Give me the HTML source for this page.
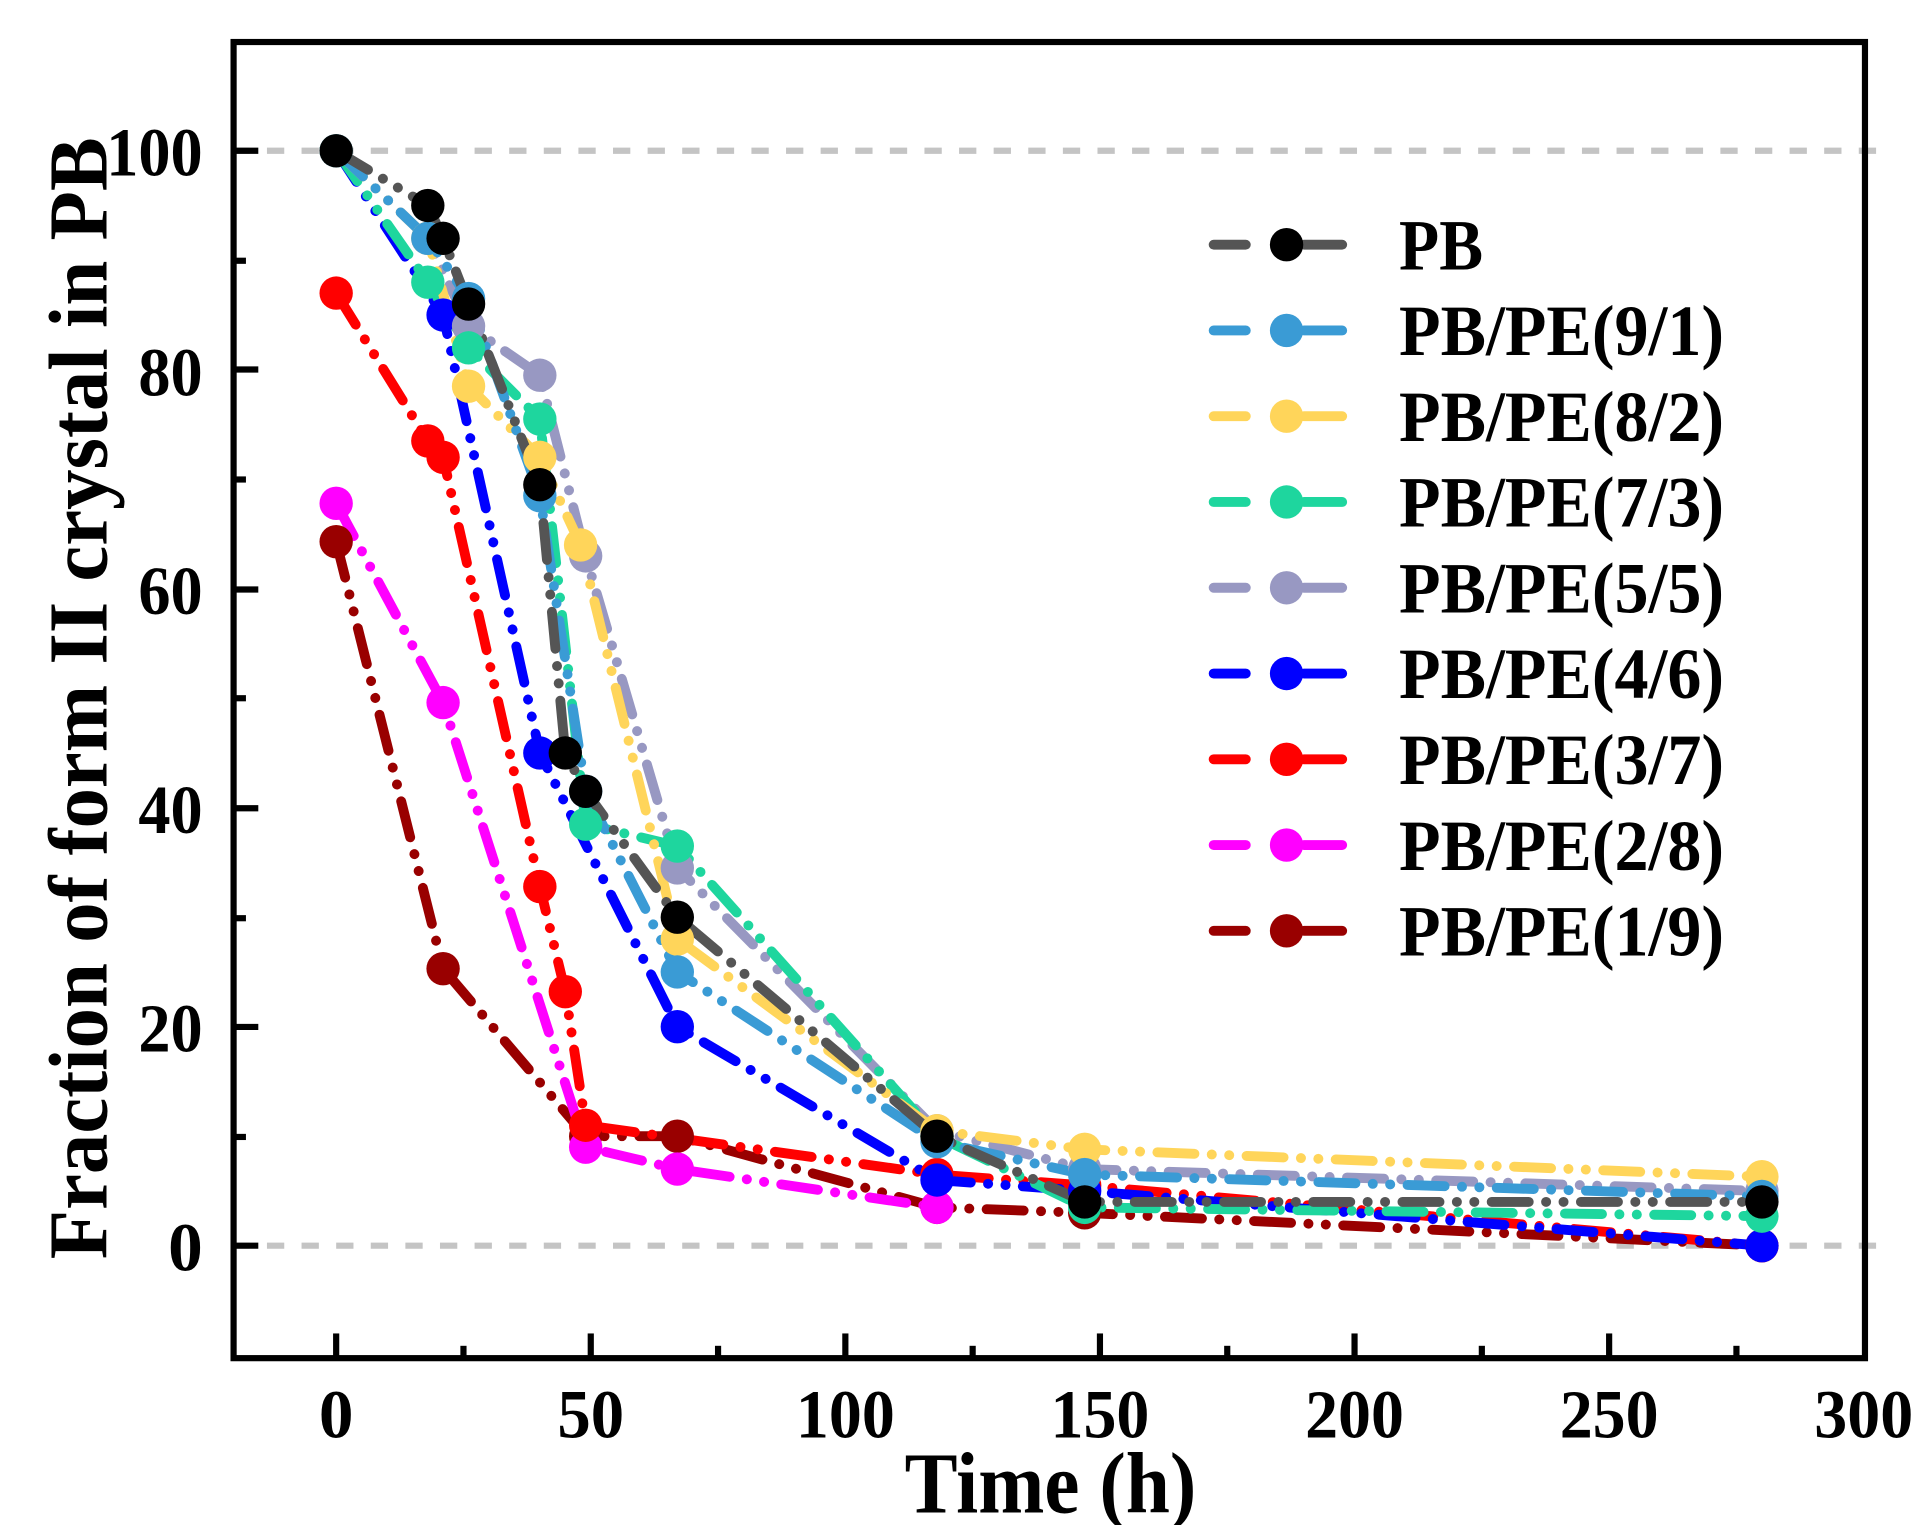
<!DOCTYPE html>
<html><head><meta charset="utf-8"><style>html,body{margin:0;padding:0;background:#fff}svg{display:block}</style></head>
<body>
<svg width="1928" height="1525" viewBox="0 0 1560 1234" preserveAspectRatio="none" xmlns="http://www.w3.org/2000/svg" font-family="'Liberation Serif', serif" font-weight="bold">
<rect width="1560" height="1234" fill="#fff"/>
<line x1="188" y1="122" x2="1518" y2="122" stroke="#c4c4c4" stroke-width="5" stroke-dasharray="14 14"/>
<line x1="188" y1="1008" x2="1518" y2="1008" stroke="#c4c4c4" stroke-width="5" stroke-dasharray="14 14"/>
<g id="series" stroke-width="8" stroke-linecap="round" stroke-linejoin="round" fill="none" stroke-dasharray="30 14 0.1 14 0.1 14"></g>
<g id="markers"></g>
<rect x="189" y="34" width="1320" height="1065" fill="none" stroke="#000" stroke-width="5"/>
<g stroke="#000" stroke-width="5">
<line x1="272" y1="1099" x2="272" y2="1079"/><line x1="478" y1="1099" x2="478" y2="1079"/><line x1="684" y1="1099" x2="684" y2="1079"/><line x1="890" y1="1099" x2="890" y2="1079"/><line x1="1096" y1="1099" x2="1096" y2="1079"/><line x1="1302" y1="1099" x2="1302" y2="1079"/>
<line x1="375" y1="1099" x2="375" y2="1089"/><line x1="581" y1="1099" x2="581" y2="1089"/><line x1="787" y1="1099" x2="787" y2="1089"/><line x1="993" y1="1099" x2="993" y2="1089"/><line x1="1199" y1="1099" x2="1199" y2="1089"/><line x1="1405" y1="1099" x2="1405" y2="1089"/>
<line x1="189" y1="122" x2="209" y2="122"/><line x1="189" y1="299" x2="209" y2="299"/><line x1="189" y1="477" x2="209" y2="477"/><line x1="189" y1="654" x2="209" y2="654"/><line x1="189" y1="831" x2="209" y2="831"/><line x1="189" y1="1008" x2="209" y2="1008"/>
<line x1="189" y1="211" x2="199" y2="211"/><line x1="189" y1="388" x2="199" y2="388"/><line x1="189" y1="565" x2="199" y2="565"/><line x1="189" y1="743" x2="199" y2="743"/><line x1="189" y1="920" x2="199" y2="920"/>
</g>
<g font-size="56" text-anchor="middle">
<text x="272" y="1163">0</text><text x="478" y="1163" textLength="54" lengthAdjust="spacingAndGlyphs">50</text><text x="684" y="1163" textLength="80" lengthAdjust="spacingAndGlyphs">100</text><text x="890" y="1163" textLength="80" lengthAdjust="spacingAndGlyphs">150</text><text x="1096" y="1163" textLength="80" lengthAdjust="spacingAndGlyphs">200</text><text x="1302" y="1163" textLength="80" lengthAdjust="spacingAndGlyphs">250</text><text x="1508" y="1163" textLength="80" lengthAdjust="spacingAndGlyphs">300</text>
</g>
<g font-size="56" text-anchor="end">
<text x="164" y="142" textLength="78" lengthAdjust="spacingAndGlyphs">100</text><text x="164" y="320" textLength="52" lengthAdjust="spacingAndGlyphs">80</text><text x="164" y="497" textLength="52" lengthAdjust="spacingAndGlyphs">60</text><text x="164" y="674" textLength="52" lengthAdjust="spacingAndGlyphs">40</text><text x="164" y="851" textLength="52" lengthAdjust="spacingAndGlyphs">20</text><text x="164" y="1028">0</text>
</g>
<text x="850" y="1224" font-size="70" text-anchor="middle" textLength="236" lengthAdjust="spacingAndGlyphs">Time (h)</text>
<text transform="translate(86,565) rotate(-90)" font-size="68" text-anchor="middle" textLength="908" lengthAdjust="spacingAndGlyphs">Fraction of form II crystal in PB</text>
<g id="legend" font-size="58"></g>
<script>
const X=t=>272+t*4.12, Y=v=>1008-v*8.86;
const S=[
["#555","#000","PB",[[0,100],[18,95],[21,92],[26,86],[40,69.5],[45,45],[49,41.5],[67,30],[118,10],[147,4],[280,4]]],
["#3a9bd5","#3a9bd5","PB/PE(9/1)",[[0,100],[18,92],[26,86.5],[40,68.5],[49,41.5],[67,25],[118,9.5],[147,6.5],[280,4.5]]],
["#ffd55a","#ffd55a","PB/PE(8/2)",[[0,100],[18,92],[26,78.5],[40,72],[48,64],[67,28],[118,10.5],[147,8.8],[280,6.3]]],
["#1ed69e","#1ed69e","PB/PE(7/3)",[[0,100],[18,88],[26,82],[40,75.5],[49,38.5],[67,36.5],[118,10],[147,3.5],[280,2.7]]],
["#9898c2","#9898c2","PB/PE(5/5)",[[0,100],[18,92],[26,84],[40,79.5],[49,63],[67,34.5],[118,10.5],[147,7],[280,5]]],
["#0000ff","#0000ff","PB/PE(4/6)",[[0,100],[21,85],[40,45],[67,20],[118,6],[147,5],[280,0]]],
["#ff0000","#ff0000","PB/PE(3/7)",[[0,87],[18,73.5],[21,72],[40,32.8],[45,23.2],[49,11],[118,6.5],[147,5.5],[280,0]]],
["#ff00ff","#ff00ff","PB/PE(2/8)",[[0,67.8],[21,49.6],[49,9],[67,7],[118,3.5]]],
["#990000","#990000","PB/PE(1/9)",[[0,64.3],[21,25.3],[49,10],[67,10],[118,3.5],[147,3],[280,0]]]];
const ns="http://www.w3.org/2000/svg";
const g=document.getElementById("series"),m=document.getElementById("markers"),L=document.getElementById("legend");
function el(p,tag,a){const e=document.createElementNS(ns,tag);for(const k in a)e.setAttribute(k,a[k]);p.appendChild(e);return e;}
S.slice().reverse().forEach(s=>{el(g,"polyline",{points:s[3].map(p=>X(p[0])+","+Y(p[1])).join(" "),stroke:s[0]});});
S.slice().reverse().forEach(s=>{s[3].forEach(p=>el(m,"circle",{cx:X(p[0]),cy:Y(p[1]),r:13.5,fill:s[1]}));});
S.forEach((s,i)=>{const y=198+i*69.4;
el(L,"line",{x1:982,y1:y,x2:1008,y2:y,stroke:s[0],"stroke-width":8,"stroke-linecap":"round"});
el(L,"line",{x1:1055,y1:y,x2:1086,y2:y,stroke:s[0],"stroke-width":8,"stroke-linecap":"round"});
el(L,"circle",{cx:1041,cy:y,r:13.5,fill:s[1]});
const t=el(L,"text",{x:1132,y:y+20});t.textContent=s[2];
t.setAttribute("textLength",i>0?263:68);t.setAttribute("lengthAdjust","spacingAndGlyphs");
});
</script>
</svg>
</body></html>
